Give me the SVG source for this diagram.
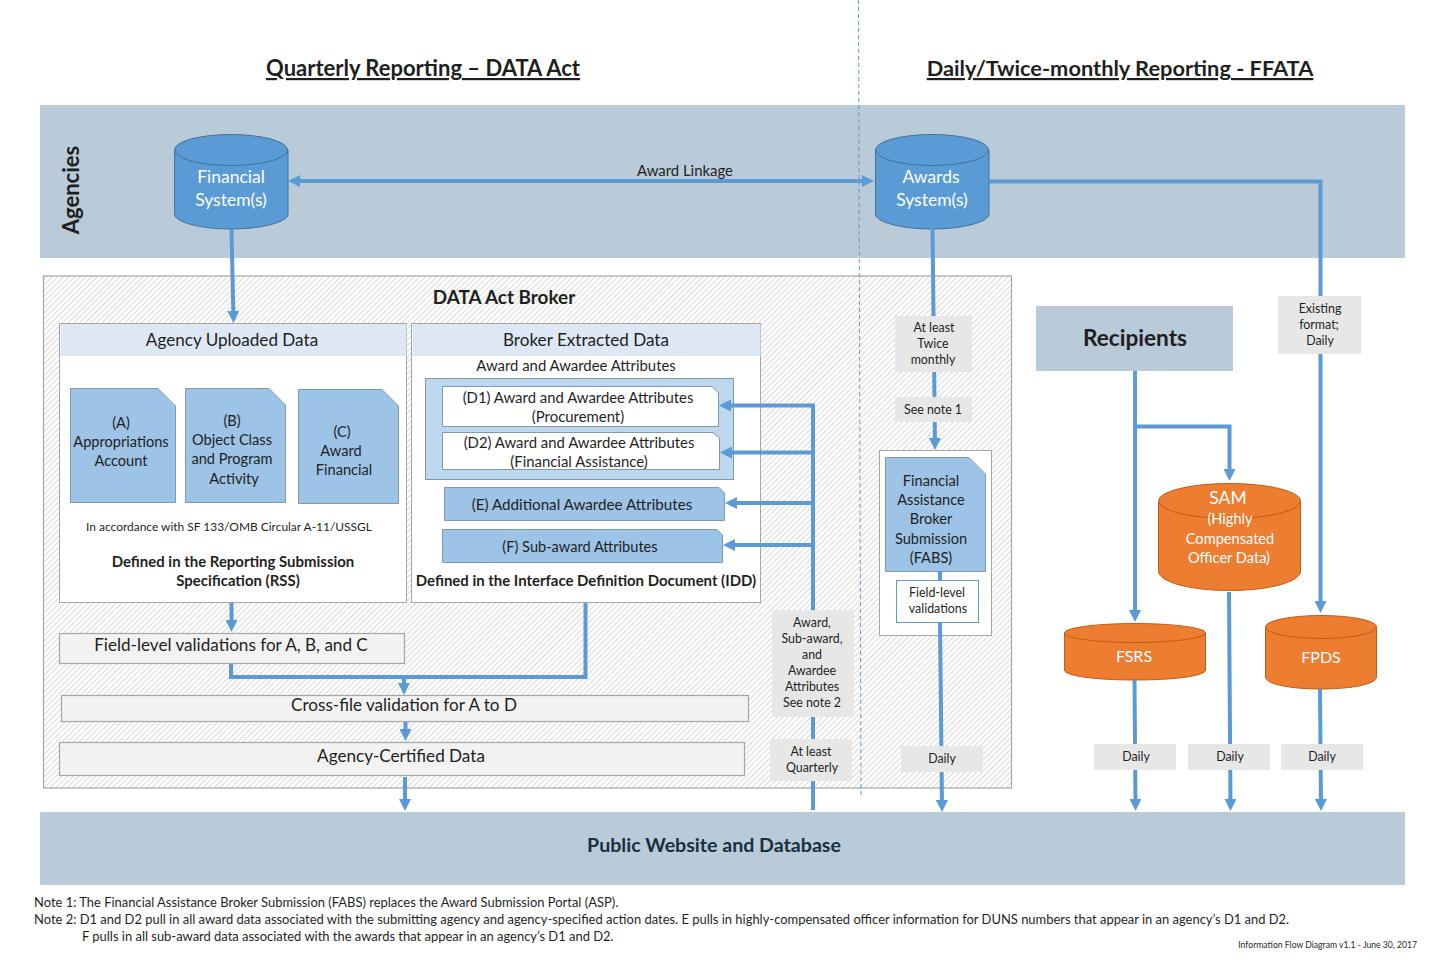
<svg xmlns="http://www.w3.org/2000/svg" width="1440" height="960" viewBox="0 0 1440 960">
<style>
text{font-family:Lato,"Open Sans","Liberation Sans",sans-serif;fill:#1f1f1f;text-anchor:middle}
.w{fill:#fff}
.t18{font-size:17.100px}
.t15{font-size:14.600px}
.t15b{font-size:14.900px}
.t12{font-size:12.400px}
.note{text-anchor:start;font-size:12.950px}
.b{font-weight:700;font-size:14.950px}
.band{fill:#b9cad8}
.panel{fill:#fff;stroke:#a6a6a6;stroke-width:1}
.head{fill:#dde8f4}
.doc{fill:#9dc3e6;stroke:#7f99b5;stroke-width:1}
.grey{fill:#f2f2f2;stroke:#a6a6a6;stroke-width:1.200}
.lab{fill:#e7e7e7}
.blue{fill:#5b9bd5;stroke:#41719c;stroke-width:1}
.orange{fill:#ed7d31;stroke:#c55a11;stroke-width:1}
.c{fill:none;stroke:#5b9bd5;stroke-width:4}
</style>
<defs>
<pattern id="hatch" width="4" height="4" patternUnits="userSpaceOnUse" patternTransform="rotate(-45)">
<rect width="4" height="4" fill="#fff"/><rect width="4" height="1" fill="#d9d9d9"/>
</pattern>
<marker id="arr" markerUnits="userSpaceOnUse" markerWidth="12" markerHeight="12" refX="6" refY="6" orient="auto"><path d="M0 0L12 6L0 12Z" fill="#5b9bd5"/></marker>
<marker id="arrs" markerUnits="userSpaceOnUse" markerWidth="12" markerHeight="12" refX="6" refY="6" orient="auto"><path d="M12 0L0 6L12 12Z" fill="#5b9bd5"/></marker>
</defs>
<rect width="1440" height="960" fill="#fff"/>
<g id="titles">
<text x="423" y="76" font-size="22" font-weight="700" text-decoration="underline">Quarterly Reporting – DATA Act</text>
<text x="1120" y="76" font-size="21.800" font-weight="700" text-decoration="underline">Daily/Twice-monthly Reporting - FFATA</text>
</g>
<g id="agencies"><rect class="band" x="40" y="105" width="1365" height="153"/>
<text transform="translate(79 190) rotate(-90)" font-size="22" font-weight="700">Agencies</text></g>
<g id="public"><rect class="band" x="40" y="812" width="1365" height="73"/>
<text x="714" y="852" font-size="19.600" font-weight="700" style="fill:#17303f">Public Website and Database</text></g>
<g id="broker"><rect x="43.500" y="276" width="968" height="512" fill="url(#hatch)" stroke="#a6a6a6" stroke-width="1.200"/>
<text x="504" y="304" font-size="18.900" font-weight="700">DATA Act Broker</text></g>
<path d="M858.500 0L861 797" fill="none" stroke="#5b9bd5" stroke-width="1" stroke-dasharray="4 3"/>

<g id="financial-system">
<path class="blue" d="M174.500 150V214C174.500 222 200 229 231 229S288 222 288 214V150Z"/>
<ellipse class="blue" cx="231" cy="150" rx="56.500" ry="15.500"/>
<text class="t18 w" style="font-size:17.500px" x="231" y="183">Financial</text><text class="t18 w" style="font-size:17.500px" x="231" y="206">System(s)</text></g>
<g id="awards-system">
<path class="blue" d="M875.500 150V214C875.500 222 901 229 932 229S989 222 989 214V150Z"/>
<ellipse class="blue" cx="932" cy="150" rx="56.500" ry="15.500"/>
<text class="t18 w" style="font-size:17.500px" x="931" y="183">Awards</text><text class="t18 w" style="font-size:17.500px" x="932" y="206">System(s)</text></g>
<g id="award-linkage"><text x="685" y="176" font-size="14.900">Award Linkage</text></g>

<g id="agency-uploaded"><rect class="panel" x="59.500" y="323.500" width="347" height="279"/>
<rect class="head" x="60.500" y="324" width="346" height="32"/>
<text class="t18" x="232" y="346">Agency Uploaded Data</text>
<text x="229" y="531" font-size="11.950">In accordance with SF 133/OMB Circular A-11/USSGL</text>
<text class="b" x="233" y="567">Defined in the Reporting Submission</text>
<text class="b" x="238" y="586">Specification (RSS)</text></g>
<g id="doc-a"><path class="doc" d="M70.500 388.500H158L175.500 406V502.500H70.500Z"/>
<text class="t15" x="121" y="428">(A)</text><text class="t15" x="121" y="447">Appropriations</text><text class="t15" x="121" y="466">Account</text></g>
<g id="doc-b"><path class="doc" d="M185.500 388.500H269L285.500 405V502.500H185.500Z"/>
<text class="t15" x="232" y="426">(B)</text><text class="t15" x="232" y="445">Object Class</text><text class="t15" x="232" y="464">and Program</text><text class="t15" x="234" y="484">Activity</text></g>
<g id="doc-c"><path class="doc" d="M298.500 389.500H382L398.500 406V503.500H298.500Z"/>
<text class="t15" x="342" y="437">(C)</text><text class="t15" x="341" y="456">Award</text><text class="t15" x="344" y="475">Financial</text></g>

<g id="broker-extracted"><rect class="panel" x="411.500" y="323.500" width="349" height="279"/>
<rect class="head" x="412.500" y="324" width="348" height="32"/>
<text class="t18" x="586" y="346">Broker Extracted Data</text>
<text class="t15b" x="576" y="371">Award and Awardee Attributes</text>
<rect x="425.500" y="378.500" width="308" height="101" fill="#bdd7ee" stroke="#7f99b5"/>
<text class="b" x="586" y="586">Defined in the Interface Definition Document (IDD)</text></g>
<g id="doc-d1"><path d="M442.500 386.500H712L718.500 393V426.500H442.500Z" fill="#fff" stroke="#7f99b5"/>
<text class="t15b" x="578" y="403">(D1) Award and Awardee Attributes</text><text class="t15b" x="578" y="422">(Procurement)</text></g>
<g id="doc-d2"><path d="M442.500 432.500H713L719.500 438V469.500H442.500Z" fill="#fff" stroke="#7f99b5"/>
<text class="t15b" x="579" y="448">(D2) Award and Awardee Attributes</text><text class="t15b" x="579" y="467">(Financial Assistance)</text></g>
<g id="doc-e"><path class="doc" d="M444.500 487.500H719L724.500 493V520.500H444.500Z"/>
<text x="582" y="510" font-size="15.200">(E)  Additional Awardee Attributes</text></g>
<g id="doc-f"><path class="doc" d="M442.500 529.500H717L722.500 535V562.500H442.500Z"/>
<text class="t15" x="580" y="552">(F) Sub-award Attributes</text></g>

<g id="field-validations"><rect class="grey" x="59.500" y="633.500" width="345" height="30"/><text class="t18" x="231" y="651">Field-level validations for A, B, and C</text></g>
<g id="cross-file"><rect class="grey" x="61.500" y="695.500" width="687" height="26"/><text class="t18" x="404" y="711">Cross-file validation for A to D</text></g>
<g id="certified"><rect class="grey" x="59.500" y="742.500" width="685" height="33"/><text class="t18" x="401" y="762">Agency-Certified Data</text></g>

<g id="fabs"><rect class="panel" x="879.500" y="450.500" width="112" height="185"/>
<path class="doc" d="M885.500 457.500H969L985.500 474V571.500H885.500Z"/>
<text class="t15" x="931" y="486">Financial</text><text class="t15" x="931" y="505">Assistance</text><text class="t15" x="931" y="524">Broker</text><text class="t15" x="931" y="544">Submission</text><text class="t15" x="931" y="563">(FABS)</text>
<path d="M940 571V581" class="c"/>
<rect x="896.500" y="580.500" width="82" height="42" fill="#fff" stroke="#5b9bd5"/>
<text class="t12" x="937" y="597">Field-level</text><text class="t12" x="938" y="613">validations</text></g>

<g id="recipients"><rect class="band" x="1036" y="306" width="197" height="65"/><text x="1135" y="346" font-size="22.600" font-weight="700">Recipients</text></g>
<g id="sam"><path class="orange" d="M1158.500 501V571C1158.500 582 1190 590.500 1229.500 590.500S1300.500 582 1300.500 571V501Z"/>
<ellipse class="orange" cx="1229.500" cy="501" rx="71" ry="17.500"/>
<text class="w" x="1228" y="504" font-size="17.500">SAM</text><text class="t15 w" x="1230" y="524">(Highly</text><text class="t15 w" x="1230" y="544">Compensated</text><text class="t15 w" x="1229" y="563">Officer Data)</text></g>
<g id="fsrs"><path class="orange" d="M1064.500 633V670C1064.500 676 1096 680 1135 680S1205.500 676 1205.500 670V633Z"/>
<ellipse class="orange" cx="1135" cy="633" rx="70.500" ry="9.500"/>
<text class="w" x="1134" y="662" font-size="16">FSRS</text></g>
<g id="fpds"><path class="orange" d="M1265.500 627V677C1265.500 684 1290 689 1321 689S1376.500 684 1376.500 677V627Z"/>
<ellipse class="orange" cx="1321" cy="627" rx="55.500" ry="11.500"/>
<text class="w" x="1321" y="663" font-size="16">FPDS</text></g>

<g id="connectors">
<path class="c" d="M294 181H868" marker-start="url(#arrs)" marker-end="url(#arr)"/>
<path class="c" d="M231.500 229L233.400 317" marker-end="url(#arr)"/>
<path class="c" d="M932.500 228L935 444" marker-end="url(#arr)"/>
<path class="c" d="M989 181.500H1320.500L1320.500 607" marker-end="url(#arr)"/>
<path class="c" d="M1135 371V616" marker-end="url(#arr)"/>
<path class="c" d="M1135 426.500H1229.500V475" marker-end="url(#arr)"/>
<path class="c" d="M813 810V405.500H725" marker-end="url(#arr)"/>
<path class="c" d="M813 452.500H726" marker-end="url(#arr)"/>
<path class="c" d="M813 503H731" marker-end="url(#arr)"/>
<path class="c" d="M813 545H729" marker-end="url(#arr)"/>
<path class="c" d="M231.500 603V626" marker-end="url(#arr)"/>
<path class="c" d="M231 664V677H585.500V603"/>
<path class="c" d="M404 677V689" marker-end="url(#arr)"/>
<path class="c" d="M405.500 722V735" marker-end="url(#arr)"/>
<path class="c" d="M405 777V805" marker-end="url(#arr)"/>
<path class="c" d="M940 622L942 806" marker-end="url(#arr)"/>
<path class="c" d="M1134.500 680L1135.500 805" marker-end="url(#arr)"/>
<path class="c" d="M1229 592L1230.500 805" marker-end="url(#arr)"/>
<path class="c" d="M1320 689L1321 805" marker-end="url(#arr)"/>
</g>

<g id="label-note2"><rect class="lab" x="772" y="610" width="82" height="107"/>
<text class="t12" x="812" y="627">Award,</text><text class="t12" x="812" y="643">Sub-award,</text><text class="t12" x="812" y="659">and</text><text class="t12" x="812" y="675">Awardee</text><text class="t12" x="812" y="691">Attributes</text><text class="t12" x="812" y="707">See note 2</text></g>
<g id="label-quarterly"><rect class="lab" x="770" y="739" width="82" height="42"/><text class="t12" x="811" y="756">At least</text><text class="t12" x="812" y="772">Quarterly</text></g>
<g id="label-twice"><rect class="lab" x="895" y="316" width="77" height="56"/><text class="t12" x="934" y="332">At least</text><text class="t12" x="933" y="348">Twice</text><text class="t12" x="933" y="364">monthly</text></g>
<g id="label-note1"><rect class="lab" x="895" y="397" width="77" height="25"/><text class="t12" x="933" y="414">See note 1</text></g>
<g id="label-existing"><rect class="lab" x="1278" y="296" width="83" height="58"/><text class="t12" x="1320" y="313">Existing</text><text class="t12" x="1319" y="329">format;</text><text class="t12" x="1320" y="345">Daily</text></g>
<g id="label-daily1"><rect class="lab" x="901" y="746" width="82" height="26"/><text class="t12" x="942" y="763">Daily</text></g>
<g id="label-daily2"><rect class="lab" x="1094" y="744" width="82" height="26"/><text class="t12" x="1136" y="761">Daily</text></g>
<g id="label-daily3"><rect class="lab" x="1188" y="744" width="82" height="26"/><text class="t12" x="1230" y="761">Daily</text></g>
<g id="label-daily4"><rect class="lab" x="1281" y="744" width="82" height="26"/><text class="t12" x="1322" y="761">Daily</text></g>

<g id="notes">
<text class="note" x="34" y="907">Note 1: The Financial Assistance Broker Submission (FABS) replaces the Award Submission Portal (ASP).</text>
<text class="note" x="34" y="924">Note 2: D1 and D2 pull in all award data associated with the submitting agency and agency-specified action dates. E pulls in highly-compensated officer information for DUNS numbers that appear in an agency’s D1 and D2.</text>
<text class="note" x="82" y="941">F pulls in all sub-award data associated with the awards that appear in an agency’s D1 and D2.</text>
<text x="1417" y="948" style="text-anchor:end;font-size:8.650px">Information Flow Diagram v1.1 - June 30, 2017</text>
</g>
</svg>
